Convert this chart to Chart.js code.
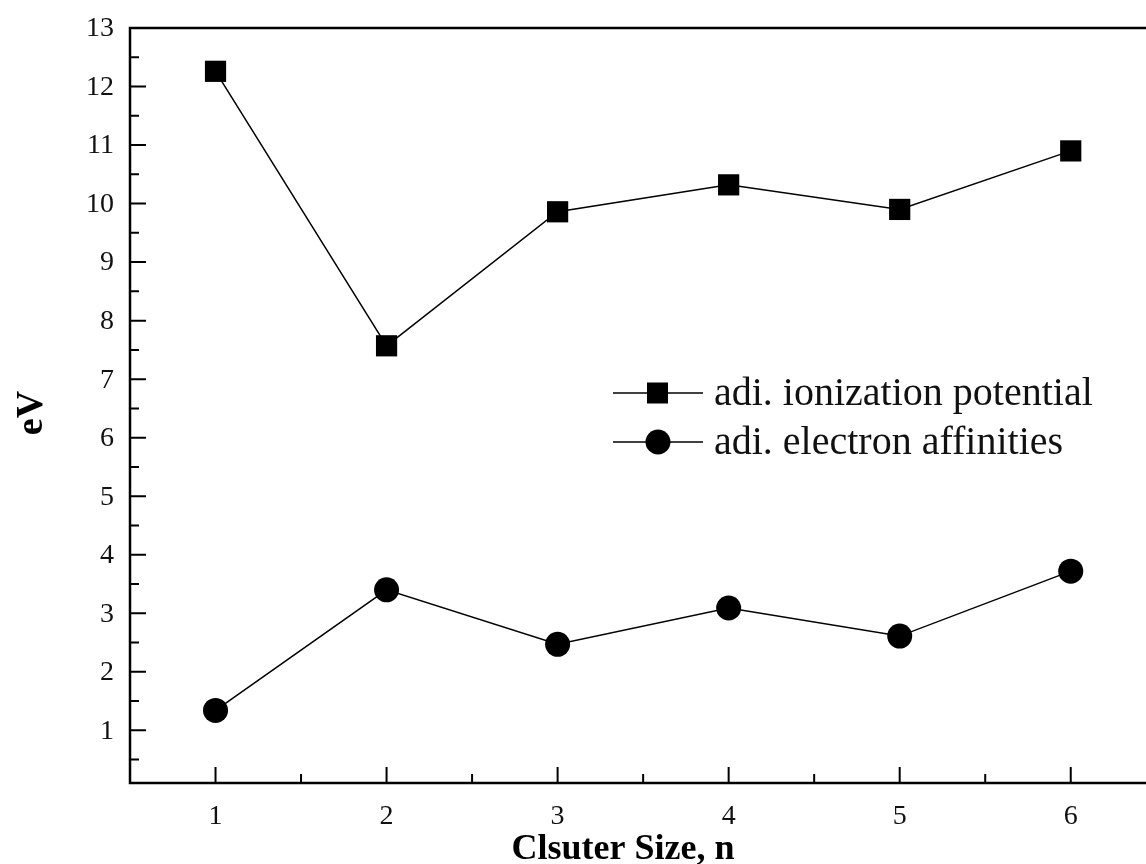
<!DOCTYPE html>
<html>
<head>
<meta charset="utf-8">
<script src="https://cdn.jsdelivr.net/npm/chart.js@4.4.1/dist/chart.umd.min.js"></script>
<style>
  html, body { margin: 0; padding: 0; background: #fff; overflow: hidden; }
</style>
</head>
<body>
<canvas id="c" width="1146" height="864"></canvas>
<script>
// Cluster sizes and adiabatic energies (eV)
const clusterSizes = [1, 2, 3, 4, 5, 6];
const ionizationPotential = [12.26, 7.57, 9.86, 10.32, 9.90, 10.90];
const electronAffinities = [1.34, 3.40, 2.47, 3.09, 2.61, 3.72];
const xTickValues = [1, 2, 3, 4, 5, 6];
const yTickValues = [1, 2, 3, 4, 5, 6, 7, 8, 9, 10, 11, 12, 13];
const seriesNames = ['adi. ionization potential', 'adi. electron affinities'];
const xTitle = 'Clsuter Size, n';
const yTitle = 'eV';

const SERIF = '"Liberation Serif", "Times New Roman", serif';

function toPoints(xs, ys) {
  return xs.map((x, i) => ({ x: x, y: ys[i] }));
}

// Axis frame (open on the right), inward major/minor ticks, tick labels,
// legend and axis titles
const framePlugin = {
  id: 'frame',
  afterDraw(chart) {
    const ctx = chart.ctx;
    const a = chart.chartArea;
    const xs = chart.scales.x, ys = chart.scales.y;
    ctx.save();
    ctx.strokeStyle = '#000';
    ctx.lineWidth = 2.5;
    ctx.beginPath();
    ctx.moveTo(a.right + 2, a.top);
    ctx.lineTo(a.left, a.top);
    ctx.lineTo(a.left, a.bottom);
    ctx.lineTo(a.right + 2, a.bottom);
    ctx.stroke();

    ctx.lineWidth = 2;
    ctx.beginPath();
    xTickValues.forEach(v => {
      const px = xs.getPixelForValue(v);
      ctx.moveTo(px, a.bottom); ctx.lineTo(px, a.bottom - 16);
      const mx = xs.getPixelForValue(v + 0.5);
      if (mx < a.right) { ctx.moveTo(mx, a.bottom); ctx.lineTo(mx, a.bottom - 9); }
    });
    yTickValues.forEach(v => {
      const py = ys.getPixelForValue(v);
      ctx.moveTo(a.left, py); ctx.lineTo(a.left + 16, py);
      const my = ys.getPixelForValue(v - 0.5);
      if (my < a.bottom) { ctx.moveTo(a.left, my); ctx.lineTo(a.left + 9, my); }
    });
    ctx.stroke();

    // tick labels
    ctx.fillStyle = '#111';
    ctx.font = '28px ' + SERIF;
    ctx.textBaseline = 'middle';
    ctx.textAlign = 'center';
    xTickValues.forEach(v => ctx.fillText(String(v), xs.getPixelForValue(v), a.bottom + 34));
    ctx.textAlign = 'right';
    yTickValues.forEach(v => ctx.fillText(String(v), a.left - 16, ys.getPixelForValue(v) + 1));

    // legend
    const rows = [393, 442];
    chart.data.datasets.forEach((ds, i) => {
      const y = rows[i];
      ctx.strokeStyle = '#000';
      ctx.lineWidth = 1.5;
      ctx.beginPath();
      ctx.moveTo(613, y); ctx.lineTo(703, y);
      ctx.stroke();
      ctx.fillStyle = '#000';
      if (ds.pointStyle === 'rect') {
        ctx.fillRect(647, y - 10.5, 21, 21);
      } else {
        ctx.beginPath();
        ctx.arc(658, y, 12.5, 0, Math.PI * 2);
        ctx.fill();
      }
      ctx.fillStyle = '#111';
      ctx.font = '40px ' + SERIF;
      ctx.textAlign = 'left';
      ctx.textBaseline = 'middle';
      ctx.fillText(ds.label, 714, y + 1);
    });

    // axis titles
    ctx.fillStyle = '#000';
    ctx.font = 'bold 36px ' + SERIF;
    ctx.textAlign = 'center';
    ctx.textBaseline = 'alphabetic';
    ctx.fillText(xTitle, 623, 859);
    ctx.save();
    ctx.translate(42, 413);
    ctx.rotate(-Math.PI / 2);
    ctx.font = 'bold 38px ' + SERIF;
    ctx.fillText(yTitle, 0, 0);
    ctx.restore();
    ctx.restore();
  }
};

new Chart(document.getElementById('c'), {
  type: 'line',
  data: {
    datasets: [
      {
        label: seriesNames[0],
        data: toPoints(clusterSizes, ionizationPotential),
        borderColor: '#000', backgroundColor: '#000', borderWidth: 1.5,
        pointStyle: 'rect', pointRadius: 15, pointHoverRadius: 15,
        pointBorderWidth: 0, tension: 0
      },
      {
        label: seriesNames[1],
        data: toPoints(clusterSizes, electronAffinities),
        borderColor: '#000', backgroundColor: '#000', borderWidth: 1.5,
        pointStyle: 'circle', pointRadius: 12.5, pointHoverRadius: 12.5,
        pointBorderWidth: 0, tension: 0
      }
    ]
  },
  options: {
    responsive: false,
    animation: false,
    events: [],
    layout: { autoPadding: false, padding: { top: 28, right: 0, left: 0, bottom: 0 } },
    plugins: { legend: { display: false }, tooltip: { enabled: false } },
    scales: {
      x: {
        type: 'linear', min: 0.5, max: 6.44,
        grid: { display: false, drawTicks: false },
        border: { display: false },
        ticks: { display: false },
        afterBuildTicks(s) { s.ticks = xTickValues.map(v => ({ value: v })); },
        afterFit(s) { s.height = 81; }
      },
      y: {
        type: 'linear', min: 0.1, max: 13,
        grid: { display: false, drawTicks: false },
        border: { display: false },
        ticks: { display: false },
        afterBuildTicks(s) { s.ticks = yTickValues.map(v => ({ value: v })); },
        afterFit(s) { s.width = 130; }
      }
    }
  },
  plugins: [framePlugin]
});
</script>
</body>
</html>
